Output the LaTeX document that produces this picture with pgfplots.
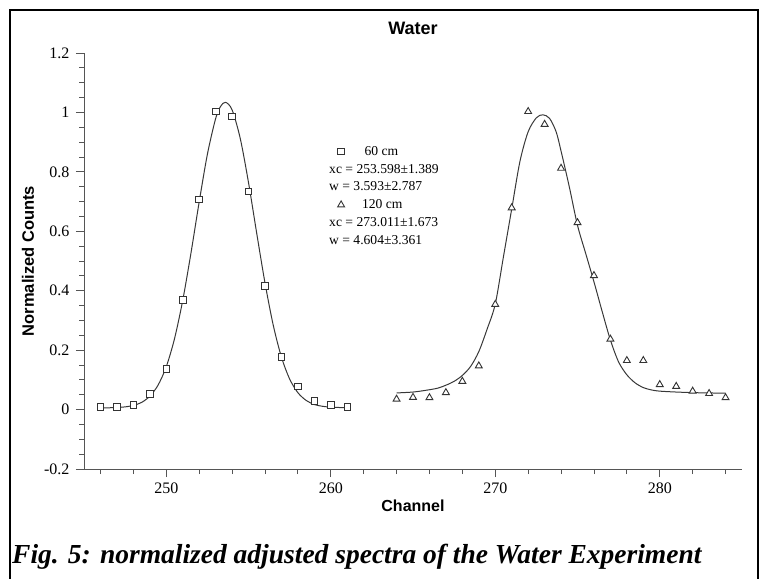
\documentclass[border=0pt]{standalone}
\usepackage{fontspec}
\setmainfont{Liberation Serif}
\newfontfamily\sansfam{Liberation Sans}
\usepackage{pgfplots}
\pgfplotsset{compat=1.18}
\definecolor{axc}{HTML}{555555}
\definecolor{cvc}{HTML}{383838}
\definecolor{mkc}{HTML}{333333}
\begin{document}
\begin{tikzpicture}[x=1pt,y=1pt]
\useasboundingbox (0,0) rectangle (767,578);
\begin{axis}[at={(84pt,109pt)}, anchor=south west, scale only axis,
  width=658pt, height=416pt,
  xmin=245, xmax=285, ymin=-0.2, ymax=1.2,
  axis lines*=left,
  axis line style={axc, line width=1pt},
  xtick={250,260,270,280},
  minor xtick={246,248,...,284},
  ytick={-0.2,0,0.2,0.4,0.6,0.8,1,1.2},
  minor y tick num=3,
  tick align=outside,
  major tick length=8pt, minor tick length=5pt,
  every tick/.style={axc, line width=0.8pt},
  minor tick style={axc, line width=0.8pt},
  /pgf/number format/assume math mode=true,
  /pgf/number format/fixed,
  ticklabel style={font=\fontsize{16}{16}\selectfont},
  xticklabel style={yshift=-2pt},
  yticklabel style={xshift=-3pt},
  every axis title shift=0pt,
  title={Water},
  title style={font=\sansfam\bfseries\fontsize{18}{18}\selectfont, at={(axis description cs:0.5,1.06)}, anchor=center},
  xlabel={Channel},
  xlabel style={font=\sansfam\bfseries\fontsize{16}{16}\selectfont, at={(axis description cs:0.5,-0.089)}, anchor=center},
  ylabel={Normalized Counts},
  ylabel style={font=\sansfam\bfseries\fontsize{16.5}{16.5}\selectfont, at={(axis description cs:-0.085,0.5)}, anchor=center, rotate=0},
]
% fitted curve, 60 cm
\addplot[cvc, line width=1pt, smooth] coordinates {
(246,0.006) (246.5,0.006) (247,0.007) (247.5,0.009) (248,0.014) (248.5,0.024)
(249,0.045) (249.5,0.082) (250,0.144) (250.5,0.238) (251,0.367) (251.5,0.526)
(252,0.698) (252.5,0.859) (253,0.979) (253.3,1.020) (253.6,1.034) (254,1.009)
(254.5,0.912) (255,0.764) (255.5,0.593) (256,0.427) (256.5,0.285) (257,0.177)
(257.5,0.103) (258,0.057) (258.5,0.031) (259,0.017) (259.5,0.011) (260,0.008)
(260.5,0.007) (261,0.006)};
% fitted curve, 120 cm
\addplot[cvc, line width=1pt, smooth] coordinates {
(264,0.056) (265,0.059) (265.8,0.065) (266.5,0.072) (267,0.082) (267.5,0.095)
(268,0.115) (268.5,0.145) (269,0.195) (269.5,0.270) (270,0.355) (270.5,0.515)
(271,0.675) (271.5,0.835) (272,0.935) (272.5,0.982) (272.9,0.992) (273.3,0.980)
(273.7,0.935) (274,0.870) (274.5,0.750) (275,0.620) (275.5,0.525) (276,0.430)
(276.5,0.330) (277,0.234) (277.5,0.160) (278,0.117) (278.5,0.090) (279,0.074)
(279.5,0.066) (280,0.062) (281,0.059) (282,0.057) (283,0.056) (284,0.055)};
% data 60 cm
\addplot[only marks, mark=square*, mark size=3.3pt, mark options={draw=mkc, fill=white, line width=0.8pt}] coordinates {
(246,0.008) (247,0.008) (248,0.016) (249,0.052) (250,0.137) (251,0.370)
(252,0.707) (253,1.004) (254,0.987) (255,0.734) (256,0.416) (257,0.177)
(258,0.078) (259,0.030) (260,0.016) (261,0.008)};
% data 120 cm
\addplot[only marks, mark=triangle*, mark size=4pt, mark options={draw=mkc, fill=white, line width=0.9pt}] coordinates {
(264,0.035) (265,0.041) (266,0.040) (267,0.057) (268,0.095) (269,0.147)
(270,0.354) (271,0.679) (272,1.003) (273,0.960) (274,0.812) (275,0.629)
(276,0.451) (277,0.237) (278,0.165) (279,0.165) (280,0.084) (281,0.078)
(282,0.062) (283,0.054) (284,0.040)};
\end{axis}
\node[anchor=north west, inner sep=0pt, align=left, font=\fontsize{13.6}{17.8}\selectfont] at (329,432) {%
\hspace*{8pt}\tikz[baseline=-0.6ex]{\draw[mkc, line width=0.8pt] (-3.3pt,-3.3pt) rectangle (3.3pt,3.3pt);}\hspace*{20pt}60 cm\\
xc = 253.598\char"00B1 1.389\\
w = 3.593\char"00B1 2.787\\
\hspace*{8pt}\tikz[baseline=-0.6ex]{\draw[mkc, line width=0.9pt] (90:4pt) -- (210:4pt) -- (330:4pt) -- cycle;}\hspace*{17pt}120 cm\\
xc = 273.011\char"00B1 1.673\\
w = 4.604\char"00B1 3.361};
\node[anchor=base west, inner sep=0pt, font=\bfseries\itshape\fontsize{27.5}{28}\selectfont] at (12,15) {Fig. 5: normalized adjusted spectra of the Water Experiment};
\draw[line width=2.4pt, black] (10,-5) -- (10,568) -- (758,568) -- (758,-5);
\end{tikzpicture}
\end{document}
